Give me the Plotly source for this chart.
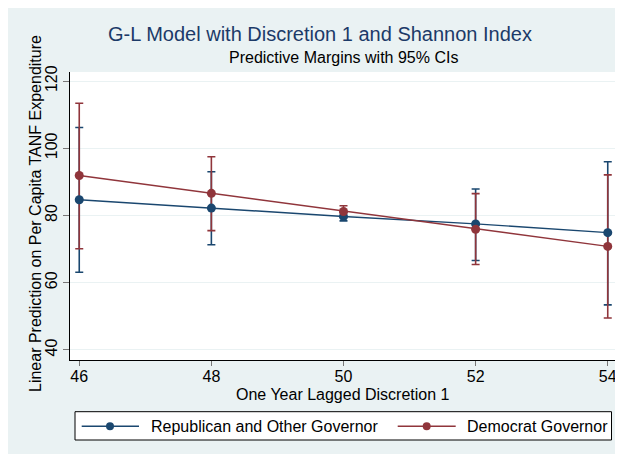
import plotly.graph_objects as go

x_vals = [46, 48, 50, 52, 54]
rep_mean = [84.7, 82.2, 79.7, 77.5, 74.9]
rep_lo = [63.1, 71.3, 78.4, 66.6, 53.4]
rep_hi = [106.2, 93.0, 81.0, 87.9, 96.0]
dem_mean = [91.9, 86.6, 81.2, 75.9, 70.8]
dem_lo = [70.1, 75.5, 79.5, 65.4, 49.5]
dem_hi = [113.4, 97.5, 82.9, 86.5, 92.1]
y_ticks = [40, 60, 80, 100, 120]
x_ticks = [46, 48, 50, 52, 54]
series_names = ["Republican and Other Governor", "Democrat Governor"]

BLUE = "#1a476f"
RED = "#90353b"
BG = "#eaf2f3"
FONT = "Liberation Sans, Arial, sans-serif"

# figure sits at an 8px offset inside the page (default body margin)
OFF = 8
W, H = 615, 446
L, R, T, B = 62, 6, 64, 94
PW, PH = W - L - R, H - T - B


def px(xp):
    return (xp - OFF - L) / PW


def py(yp):
    return (H - B - (yp - OFF)) / PH


fig = go.Figure()


def err_trace(means, lo, hi, color):
    return go.Scatter(
        x=x_vals, y=means, mode="markers",
        marker=dict(size=1, color=color, opacity=0),
        error_y=dict(type="data", symmetric=False,
                     array=[h - m for h, m in zip(hi, means)],
                     arrayminus=[m - l for m, l in zip(means, lo)],
                     color=color, thickness=1.6, width=4),
        showlegend=False, hoverinfo="skip")


fig.add_trace(err_trace(rep_mean, rep_lo, rep_hi, BLUE))
fig.add_trace(err_trace(dem_mean, dem_lo, dem_hi, RED))

fig.add_trace(go.Scatter(x=x_vals, y=rep_mean, mode="lines+markers",
                         name=series_names[0], showlegend=False,
                         line=dict(color=BLUE, width=1.4),
                         marker=dict(size=9, color=BLUE)))
fig.add_trace(go.Scatter(x=x_vals, y=dem_mean, mode="lines+markers",
                         name=series_names[1], showlegend=False,
                         line=dict(color=RED, width=1.4),
                         marker=dict(size=9, color=RED)))

# legend box drawn in Stata style
shapes = [dict(type="rect", xref="paper", yref="paper",
               x0=px(75), x1=px(611.5), y0=py(440), y1=py(411.7),
               fillcolor="white", line=dict(color="black", width=1), layer="above")]
annotations = []
leg_y = 426.3
for (lx0, lx1, dotx, tx), col, name in zip(
        [(81.7, 139, 110, 149), (397.7, 455.7, 426.7, 465)],
        [BLUE, RED], series_names):
    shapes.append(dict(type="line", xref="paper", yref="paper",
                       x0=px(lx0), x1=px(lx1), y0=py(leg_y), y1=py(leg_y),
                       line=dict(color=col, width=1.4), layer="above"))
    r = 4
    shapes.append(dict(type="circle", xref="paper", yref="paper",
                       x0=px(dotx - r), x1=px(dotx + r),
                       y0=py(leg_y + r), y1=py(leg_y - r),
                       fillcolor=col, line=dict(color=col, width=0), layer="above"))
    annotations.append(dict(text=name, xref="paper", yref="paper",
                            x=px(tx), y=py(leg_y), xanchor="left", yanchor="middle",
                            showarrow=False,
                            font=dict(size=16, color="black", family=FONT)))

annotations += [
    dict(text="Predictive Margins with 95% CIs",
         xref="paper", yref="paper", x=px(343), y=py(58),
         xanchor="center", yanchor="middle", showarrow=False,
         font=dict(size=16, color="black", family=FONT)),
    dict(text="One Year Lagged Discretion 1",
         xref="paper", yref="paper", x=px(343), y=py(394),
         xanchor="center", yanchor="middle", showarrow=False,
         font=dict(size=16, color="black", family=FONT)),
    dict(text="Linear Prediction on Per Capita TANF Expenditure",
         xref="paper", yref="paper", x=px(35), y=py(214),
         xanchor="center", yanchor="middle", showarrow=False, textangle=-90,
         font=dict(size=16, color="black", family=FONT)),
]

fig.update_layout(
    width=W, height=H,
    margin=dict(l=L, r=R, t=T, b=B),
    paper_bgcolor=BG, plot_bgcolor="white",
    font=dict(family=FONT, size=16, color="black"),
    showlegend=False,
    title=dict(text="G-L Model with Discretion 1 and Shannon Index",
               x=(320 - OFF) / W, xanchor="center", y=1 - (34 - OFF) / H,
               yanchor="middle",
               font=dict(size=20, color="#1c3a68", family=FONT)),
    annotations=annotations,
    shapes=shapes,
    xaxis=dict(range=[45.86, 54.14], tickvals=x_ticks, showgrid=False,
               zeroline=False, showline=True, linecolor="black", linewidth=1,
               ticks="outside", ticklen=5, tickcolor="#777777",
               tickfont=dict(size=16), automargin=False,
               ticklabelstandoff=-3),
    yaxis=dict(range=[37.0, 122.7], tickvals=y_ticks, showgrid=True,
               gridcolor=BG, gridwidth=1.2, zeroline=False, showline=True,
               linecolor="black", linewidth=1, ticks="outside", ticklen=6,
               tickcolor="#777777", tickangle=-90, tickfont=dict(size=16),
               automargin=False),
)

fig.write_html("out.html", config={"displayModeBar": False})
